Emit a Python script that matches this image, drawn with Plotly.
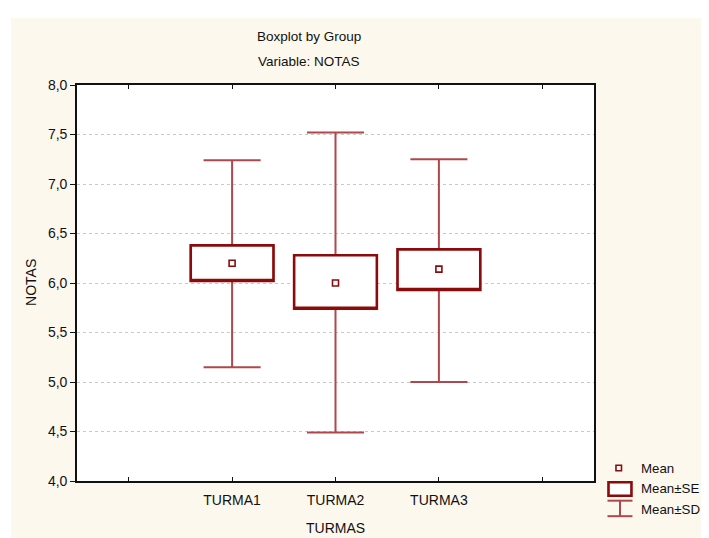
import plotly.graph_objects as go

# ---- data ----
groups = ["TURMA1", "TURMA2", "TURMA3"]
means = [6.20, 6.00, 6.14]
se_low = [6.02, 5.74, 5.93]
se_high = [6.38, 6.28, 6.34]
sd_low = [5.15, 4.49, 5.00]
sd_high = [7.24, 7.52, 7.25]
x_tick_labels = ["", "TURMA1", "TURMA2", "TURMA3", ""]
y_ticks = [4.0, 4.5, 5.0, 5.5, 6.0, 6.5, 7.0, 7.5, 8.0]
legend_labels = ["Mean", "Mean±SE", "Mean±SD"]

positions = [i + 1 for i in range(len(groups))]

BOX_C = "#8B0A0A"
WHISK_C = "#B0474D"
FONT = "Arial, Liberation Sans, sans-serif"

fig = go.Figure()

# whiskers (Mean ± SD)
fig.add_trace(go.Box(
    x=positions, q1=se_low, median=se_low, q3=se_high,
    lowerfence=sd_low, upperfence=sd_high,
    width=0.8, whiskerwidth=0.69,
    line=dict(color=WHISK_C, width=2), fillcolor="white",
    showlegend=False, hoverinfo="skip"))

# boxes (Mean ± SE)
fig.add_trace(go.Box(
    x=positions, q1=se_low, median=se_low, q3=se_high,
    lowerfence=se_low, upperfence=se_high,
    width=0.8, whiskerwidth=0,
    line=dict(color=BOX_C, width=2.6), fillcolor="white",
    showlegend=False, hoverinfo="skip"))

# means
fig.add_trace(go.Scatter(
    x=positions, y=means, mode="markers",
    marker=dict(symbol="square", size=6, color="white",
                line=dict(color=BOX_C, width=1.6)),
    showlegend=False, hoverinfo="skip"))

OFF = 8  # page body margin
W, H = 709 - OFF, 538 - OFF
# plot-area edges in page pixels
PL, PR, PT, PB = 77, 594.5, 85, 481.3
L, T = PL - OFF, PT - OFF
R, B = W - (PR - OFF), H - (PB - OFF)
pw, ph = PR - PL, PB - PT

def px(x):
    return (x - PL) / pw

def py(y):
    return 1 - (y - PT) / ph

shapes = [
    # cream page background
    dict(type="rect", xref="paper", yref="paper", layer="below",
         x0=px(11), x1=px(720), y0=py(550), y1=py(18),
         fillcolor="#FDF8EE", line=dict(width=0)),
    # white plot area
    dict(type="rect", xref="paper", yref="paper", layer="below",
         x0=0, x1=1, y0=0, y1=1, fillcolor="white", line=dict(width=0)),
    # legend icons
    dict(type="rect", xref="paper", yref="paper",
         x0=px(616.5), x1=px(622), y0=py(471), y1=py(465.5),
         fillcolor="white", line=dict(color=BOX_C, width=1.6)),
    dict(type="rect", xref="paper", yref="paper",
         x0=px(609), x1=px(632), y0=py(496), y1=py(482.5),
         fillcolor="white", line=dict(color=BOX_C, width=2.6)),
    dict(type="line", xref="paper", yref="paper",
         x0=px(608), x1=px(633), y0=py(501), y1=py(501),
         line=dict(color=WHISK_C, width=2)),
    dict(type="line", xref="paper", yref="paper",
         x0=px(620.5), x1=px(620.5), y0=py(501), y1=py(516.5),
         line=dict(color=WHISK_C, width=2)),
    dict(type="line", xref="paper", yref="paper",
         x0=px(608), x1=px(633), y0=py(516.5), y1=py(516.5),
         line=dict(color=WHISK_C, width=2)),
]

font = dict(family=FONT, size=14, color="#111")
tfont = dict(family=FONT, size=13.5, color="#111")
lfont = dict(family=FONT, size=13.3, color="#111")
ann_base = dict(xref="paper", yref="paper", showarrow=False,
                xanchor="center", yanchor="middle")
annotations = [
    dict(text="Boxplot by Group", x=px(309), y=py(36), font=tfont, **ann_base),
    dict(text="Variable: NOTAS", x=px(309), y=py(61), font=tfont, **ann_base),
    dict(text="NOTAS", x=px(31), y=py(283), textangle=-90, font=font, **ann_base),
    dict(text="TURMAS", x=px(336), y=py(528), font=font, **ann_base),
]
for i, lab in enumerate(legend_labels):
    a = dict(ann_base)
    a["xanchor"] = "left"
    annotations.append(dict(text=lab, x=px(640), y=py(468.5 + 20.5 * i),
                            font=lfont, **a))

fig.update_layout(
    width=W, height=H,
    margin=dict(l=L, r=R, t=T, b=B, pad=0),
    paper_bgcolor="white", plot_bgcolor="white",
    boxmode="overlay", separators=",.",
    font=font,
    shapes=shapes, annotations=annotations,
    xaxis=dict(range=[-0.5, 4.5], tickvals=list(range(len(x_tick_labels))),
               ticktext=x_tick_labels, ticks="inside", ticklen=4,
               tickcolor="#111", showgrid=False, zeroline=False,
               showline=True, linecolor="#111", linewidth=1.6, mirror="ticks",
               tickfont=font, ticklabelstandoff=5),
    yaxis=dict(range=[4.0, 8.0], tickvals=y_ticks, tickformat=".1f",
               ticks="outside", ticklen=5, tickcolor="#111",
               showgrid=True, gridcolor="#C8C8C8", griddash="dot", gridwidth=1,
               zeroline=False, showline=True, linecolor="#111", linewidth=1.6,
               mirror=True, tickfont=font),
)

fig.write_html("out.html")
